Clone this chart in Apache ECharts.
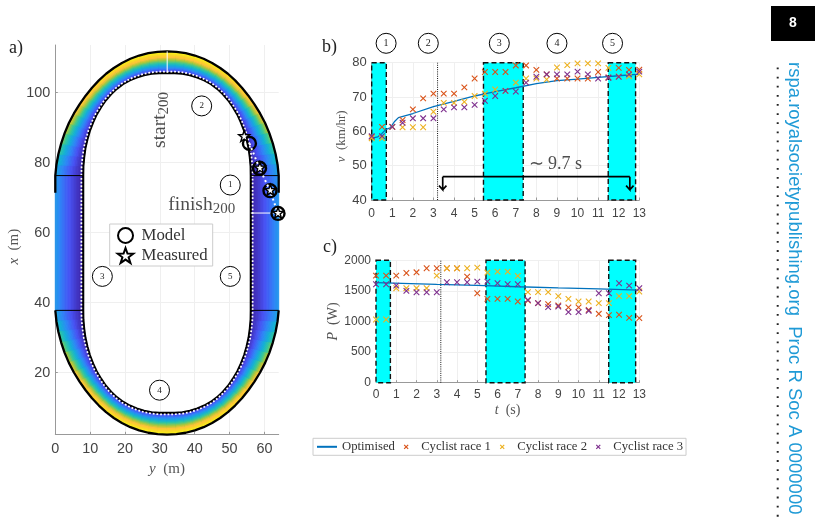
<!DOCTYPE html>
<html><head><meta charset="utf-8">
<style>html,body{margin:0;padding:0;background:#fff}#c{width:821px;height:518px}</style>
<script src="https://cdn.jsdelivr.net/npm/echarts@6/dist/echarts.min.js"></script>
</head><body><div id="c"></div>
<script>
// ---- Panel (b) and (c) readings
const tSamples=[0,0.5,1,1.5,2,2.5,3,3.5,4,4.5,5,5.5,6,6.5,7,7.5,8,8.5,9,9.5,10,10.5,11,11.5,12,12.5,13];
const vRace1=[58.4,61.3,61.3,63.3,66.4,69.6,71,71,71,72.8,75.4,77.3,77.3,77.3,79.2,79.2,77.9,76.6,75.4,75.4,75.4,75.4,77.3,75.7,78.5,77.9,78];
const vRace2=[58,58,61.3,61.2,61.2,61.2,65.7,68.3,68.3,68.6,70.3,71,72.2,71.8,74.2,75.4,75.4,75.1,78.6,79.3,79.8,79.8,79.8,78.5,76,76,76.6];
const vRace3=[58.6,58.6,61.3,62.5,63.8,63.8,63.8,66.4,67,67,67.7,68.9,70.3,71.8,71.6,74.2,75.9,76.6,76.6,76.6,77.4,76.6,75.4,75.6,75.9,76.6,77.4];
const vModelT=[0,0.3,0.5,0.7,0.9,1.1,1.3,2,3,4,5,6,7,8,9,10,11,12,13];
const vModel=[58,58.4,59.4,60.6,61,62.8,64,65.2,67.2,68.7,70.3,71.6,72.7,73.9,74.8,75.2,75.7,76.2,76.7];
const pRace1=[1750,1750,1750,1793,1804,1870,1870,1870,1870,1733,1462,1370,1370,1370,1327,1343,1300,1283,1262,1230,1230,1190,1126,1104,1110,1060,1055];
const pRace2=[1033,1033,1544,1544,1544,1544,1750,1870,1870,1870,1880,1800,1815,1815,1745,1480,1480,1480,1414,1370,1327,1327,1300,1300,1414,1414,1490];
const pRace3=[1609,1609,1587,1500,1478,1478,1478,1641,1641,1641,1652,1652,1625,1609,1609,1354,1300,1234,1245,1153,1153,1175,1462,1462,1625,1587,1544];
const pModelT=[0,3,5,7,9,11,13];
const pModel=[1635,1605,1590,1568,1548,1532,1512];
const bandStart=[0,5.43,11.49];
const bandEnd=[0.71,7.36,12.82];
const markTime=3.2;
const sectorLabels=['1','2','3','4','5'];
const sectorT=[0.7,2.75,6.2,9,11.7];
const sectorV=85.65;
const spanBar=[[3.45,46.8],[12.54,46.8]];
const spanLeft=[[3.45,46.8],[3.45,43],[3.27,44.2],[3.45,43],[3.63,44.2]];
const spanRight=[[12.54,46.8],[12.54,43],[12.36,44.2],[12.54,43],[12.72,44.2]];
// ---- Panel (a) readings: track edges, quarter-arc offsets from the bend ends
const trackCentreY=32.05, bendTopX=76.3, bendBottomX=37.8, outerEdgeEndX=71.4;
const outerDy=[32.05,31.73,31.16,30.36,29.37,28.15,26.71,25.1,23.35,21.51,19.55,17.48,15.27,12.94,10.51,8,5.37,2.69,0];
const outerDx=[0,3.1,6.16,9.19,12.14,15,17.75,20.36,22.82,25.1,27.19,29.08,30.74,32.17,33.36,34.29,34.96,35.36,35.5];
const innerDy=[24.05,24.01,23.78,23.43,22.85,22.15,21.23,20.2,18.92,17.6,16.06,14.4,12.63,10.66,8.68,6.57,4.43,2.2,0];
const innerDx=[0,2.6,5.19,7.78,10.32,12.78,15.15,17.41,19.53,21.47,23.24,24.8,26.12,27.2,28.03,28.7,29.1,29.29,29.3];
const bankColour=[.3,.38,.46,.54,.62,.69,.75,.81,.86,.9,.93,.96,.98,.99,1,1,1,1,1];
const riderY=[55.7,58.6,61.6,63.9];
const riderX=[85.5,78.4,72,65.5];
const measuredY=[54.2,58.7,61.7,63.9];
const measuredX=[87.6,78.6,72.2,65.7];
const trackSectorNames=['1','2','3','4','5'];
const trackSectorY=[50.2,42,13.5,29.9,50.2];
const trackSectorX=[73.6,96.2,47.5,15,47.5];

const SERIF='"Liberation Serif",serif', SANS='"Liberation Sans",sans-serif';
const parula=[[62,38,168],[72,82,244],[46,135,247],[18,177,214],[55,200,151],[171,199,57],[254,195,56],[249,220,36],[249,251,20]];
function pc(f){f=Math.max(0,Math.min(1,f))*(parula.length-1);const i=Math.min(Math.floor(f),parula.length-2),u=f-i;
  const a=parula[i],b=parula[i+1];return 'rgb('+[0,1,2].map(k=>Math.round(a[k]+(b[k]-a[k])*u)).join(',')+')';}

function arc(xBase,sx){const r=[];
  for(let i=0;i<19;i++)r.push([trackCentreY-outerDy[i],xBase+sx*outerDx[i],trackCentreY-innerDy[i],xBase+sx*innerDx[i],bankColour[i]]);
  for(let i=17;i>=0;i--)r.push([trackCentreY+outerDy[i],xBase+sx*outerDx[i],trackCentreY+innerDy[i],xBase+sx*innerDx[i],bankColour[i]]);
  return r;}
const topArc=arc(bendTopX,1), botArc=arc(bendBottomX,-1);
const straightL=[[0,bendBottomX,8,bendBottomX,.3],[0,bendTopX,8,bendTopX,.3]];
const straightR=[[64.1,bendBottomX,56.1,bendBottomX,.3],[64.1,bendTopX,56.1,bendTopX,.3]];
const BANDS=18, cells=[];
const railPt=(p,s)=>[p[2]+(p[0]-p[2])*s,p[3]+(p[1]-p[3])*s];
[topArc,botArc,straightL,straightR].forEach(rail=>{
  for(let i=0;i<rail.length-1;i++){const a=rail[i],b=rail[i+1];
    for(let j=0;j<BANDS;j++){const s0=j/BANDS,s1=(j+1)/BANDS,sm=(s0+s1)/2,bank=(a[4]+b[4])/2;
      const shade=Math.pow(sm,1.3-.3*(bank-.3)/.7)*bank;
      cells.push([...railPt(a,s0),...railPt(a,s1),...railPt(b,s1),...railPt(b,s0),shade]);
    }}});
const outerTop=[[0,outerEdgeEndX],...topArc.map(p=>[p[0],p[1]]),[64.1,outerEdgeEndX]];
const outerBot=botArc.map(p=>[p[0],p[1]]);
const innerPath=[...topArc.map(p=>[p[2],p[3]]),...botArc.slice().reverse().map(p=>[p[2],p[3]])];
innerPath.push(innerPath[0]);
const whitePath=[...topArc.map(p=>railPt(p,.065)),...botArc.slice().reverse().map(p=>railPt(p,.065))];
whitePath.push(whitePath[0]);

const STAR='path://M50 4L62 38L98 39L69 61L80 96L50 75L20 96L31 61L2 39L38 38Z';
const CROSS='path://M0 0L10 10M10 0L0 10';
const axisLine={show:true,lineStyle:{color:'#999',width:1}};
const split={show:true,lineStyle:{color:'#efefef',width:1}};
const tick={show:true,inside:true,length:2.5,lineStyle:{color:'#999'}};
function lab(sz,m){return {color:'#444',fontFamily:SANS,fontSize:sz,margin:m,formatter:v=>String(v)};}
const nameStyle=(sz,pad)=>({color:'#555',fontFamily:SERIF,fontSize:sz,padding:pad||0,rich:{i:{fontFamily:SERIF,fontStyle:'italic',fontSize:sz,color:'#555'}}});
const zip=(a,b)=>a.map((v,i)=>[v,b[i]]);

function bandsSeries(xi){return {type:'line',name:'bands'+xi,xAxisIndex:xi,yAxisIndex:xi,data:[],z:1,silent:true,
  markArea:{silent:true,itemStyle:{color:'#00ffff',borderColor:'#111',borderWidth:1.4,borderType:[5,3]},
   data:bandStart.map((s,i)=>[{xAxis:s,yAxis:xi===1?80:2000},{xAxis:bandEnd[i],yAxis:xi===1?40:0}])}};}
function crossSeries(name,vals,color,xi){return {type:'scatter',name,xAxisIndex:xi,yAxisIndex:xi,data:zip(tSamples,vals),z:6,
  symbol:CROSS,symbolSize:5.6,clip:false,itemStyle:{color:'none',borderColor:color,borderWidth:1.1,opacity:1}};}
function dotted(xi,y0,y1){return {type:'line',xAxisIndex:xi,yAxisIndex:xi,data:[[markTime,y0],[markTime,y1]],symbol:'none',z:3,silent:true,
  lineStyle:{color:'#111',width:1,type:[1,1.2]}};}
function black(data,width,z,extra){return Object.assign({type:'line',xAxisIndex:0,yAxisIndex:0,data,symbol:'none',clip:false,silent:true,z:z||3,
  lineStyle:{color:'#000',width:width||1}},extra||{});}
function span(data){return {type:'line',xAxisIndex:1,yAxisIndex:1,data,symbol:'none',clip:false,z:7,silent:true,lineStyle:{color:'#000',width:1.7,join:'miter'}};}

const option={animation:false,backgroundColor:'#fff',
 grid:[{left:55.3,top:45,width:223.4,height:389.3},{left:371.7,top:62.7,width:267.6,height:137.3},{left:376,top:260.3,width:263.3,height:122.4}],
 xAxis:[
  {gridIndex:0,type:'value',min:0,max:64.1,axisLine,splitLine:split,axisTick:Object.assign({},tick,{customValues:[0,10,20,30,40,50,60]}),
   axisLabel:Object.assign(lab(14.4,8),{customValues:[0,10,20,30,40,50,60]}),name:'{i|y}  (m)',nameLocation:'middle',nameGap:25,nameTextStyle:nameStyle(15)},
  {gridIndex:1,type:'value',min:0,max:13,interval:1,axisLine,splitLine:split,axisTick:tick,axisLabel:lab(12,8)},
  {gridIndex:2,type:'value',min:0,max:13,interval:1,axisLine,splitLine:split,axisTick:tick,axisLabel:lab(12,6),
   name:'{i|t}  (s)',nameLocation:'middle',nameGap:21,nameTextStyle:nameStyle(14)}],
 yAxis:[
  {gridIndex:0,type:'value',min:2.4,max:113.6,axisLine,splitLine:split,axisTick:Object.assign({},tick,{customValues:[20,40,60,80,100]}),
   axisLabel:Object.assign(lab(14.4,5),{customValues:[20,40,60,80,100]}),name:'{i|x}  (m)',nameLocation:'middle',nameGap:34,nameTextStyle:nameStyle(15,[0,14,0,0])},
  {gridIndex:1,type:'value',min:40,max:80,interval:10,axisLine,splitLine:split,axisTick:tick,axisLabel:lab(13,5),
   name:'{i|v}  (km/hr)',nameLocation:'middle',nameGap:19,nameTextStyle:nameStyle(13,[0,10,0,0])},
  {gridIndex:2,type:'value',min:0,max:2000,interval:500,axisLine,splitLine:split,axisTick:tick,axisLabel:lab(12,5),
   name:'{i|P}  (W)',nameLocation:'middle',nameGap:28,nameTextStyle:nameStyle(14)}],
 legend:[
  {data:['Model','Measured'],left:109.7,top:224,orient:'vertical',selectedMode:false,padding:[3,5,2,7],itemGap:3,itemWidth:18,itemHeight:15,
   backgroundColor:'#fff',borderColor:'#ccc',borderWidth:1,borderRadius:0,z:20,
   textStyle:{fontFamily:SERIF,fontSize:16.8,color:'#333',padding:[0,0,0,2]},itemStyle:{borderWidth:2}},
  {data:[{name:'Optimised',itemStyle:{color:'rgba(0,0,0,0)',opacity:0,borderWidth:0}},'Cyclist race 1','Cyclist race 2','Cyclist race 3'],left:313,top:438.3,selectedMode:false,padding:[2,3],itemGap:6.8,itemWidth:20,itemHeight:4,
   borderColor:'#ccc',borderWidth:1,borderRadius:0,backgroundColor:'#fff',
   textStyle:{fontFamily:SERIF,fontSize:12.7,color:'#333'},itemStyle:{borderWidth:1.2}}],
 series:[
  {type:'custom',xAxisIndex:0,yAxisIndex:0,z:2,silent:true,clip:false,data:cells,encode:{x:[0,2,4,6],y:[1,3,5,7]},
   renderItem:(p,api)=>{const pts=[0,2,4,6].map(k=>api.coord([api.value(k),api.value(k+1)]));const c=pc(api.value(8));
     return {type:'polygon',shape:{points:pts},style:{fill:c,stroke:c,lineWidth:1}};}},
  black(outerTop,2.3,3),black(outerBot,2.3,3),
  black(innerPath,2.2,3),
  black(whitePath,1.7,4,{lineStyle:{color:'#fff',width:1.7,type:[1.8,1.9]}}),
  black([[0,bendTopX],[8,bendTopX]],1,4),black([[56.1,bendTopX],[64.1,bendTopX]],1,4),
  black([[0,bendBottomX],[8,bendBottomX]],1,4),black([[56.1,bendBottomX],[64.1,bendBottomX]],1,4),
  black([[32.1,105.6],[32.1,111.8]],1,4,{lineStyle:{color:'#fff',width:1}}),
  black([[56.1,65.6],[64.1,65.6]],1,4,{lineStyle:{color:'#fff',width:1}}),
  {type:'scatter',name:'Model',xAxisIndex:0,yAxisIndex:0,data:zip(riderY,riderX),symbol:'circle',symbolSize:13,clip:false,z:6,
   itemStyle:{color:'rgba(255,255,255,0)',borderColor:'#000',borderWidth:2.4,opacity:1}},
  black(zip(riderY,riderX),2,7,{lineStyle:{color:'#fff',width:2,type:[2,3]}}),
  {type:'scatter',name:'Measured',xAxisIndex:0,yAxisIndex:0,data:zip(measuredY,measuredX),symbol:STAR,symbolSize:11,clip:false,z:8,
   itemStyle:{color:'#fff',borderColor:'#000',borderWidth:1.4,opacity:1}},
  {type:'scatter',xAxisIndex:0,yAxisIndex:0,z:9,symbol:'circle',symbolSize:20,clip:false,silent:true,
   data:zip(trackSectorY,trackSectorX).map((d,i)=>({value:d,label:{formatter:trackSectorNames[i]}})),
   itemStyle:{color:'#fff',borderColor:'#000',borderWidth:1,opacity:1},
   label:{show:true,position:'inside',color:'#222',fontFamily:SERIF,fontSize:9}},
  {type:'scatter',xAxisIndex:0,yAxisIndex:0,z:9,symbolSize:1,clip:false,silent:true,itemStyle:{color:'rgba(0,0,0,0)'},
   data:[{value:[30.1,92.2],label:{rotate:90,formatter:'{t|start}{s|200}'}},{value:[42,68],label:{formatter:'{t|finish}{s|200}'}}],
   label:{show:true,position:'inside',rich:{t:{fontFamily:SERIF,fontSize:19.5,color:'#222'},s:{fontFamily:SERIF,fontSize:15,color:'#222',padding:[8,0,0,0]}}}},

  bandsSeries(1),dotted(1,40,80),
  crossSeries('Cyclist race 1',vRace1,'#d95319',1),crossSeries('Cyclist race 2',vRace2,'#edb120',1),crossSeries('Cyclist race 3',vRace3,'#7e2f8e',1),
  {type:'line',name:'Optimised',xAxisIndex:1,yAxisIndex:1,data:zip(vModelT,vModel),symbol:'none',z:5,color:'#0072bd',lineStyle:{color:'#0072bd',width:1.3}},
  span(spanBar),span(spanLeft),span(spanRight),
  {type:'scatter',xAxisIndex:1,yAxisIndex:1,z:9,symbolSize:1,clip:false,silent:true,itemStyle:{color:'rgba(0,0,0,0)'},
   data:[{value:[8.92,50.4],label:{formatter:'∼ 9.7 s'}}],label:{show:true,position:'inside',fontFamily:SERIF,fontSize:18,color:'#222'}},
  {type:'scatter',xAxisIndex:1,yAxisIndex:1,z:9,symbol:'circle',symbolSize:20,clip:false,silent:true,
   data:sectorT.map((t,i)=>({value:[t,sectorV],label:{formatter:sectorLabels[i]}})),
   itemStyle:{color:'#fff',borderColor:'#000',borderWidth:1,opacity:1},label:{show:true,position:'inside',color:'#222',fontFamily:SERIF,fontSize:10}},

  bandsSeries(2),dotted(2,0,2000),
  crossSeries('Cyclist race 1',pRace1,'#d95319',2),crossSeries('Cyclist race 2',pRace2,'#edb120',2),crossSeries('Cyclist race 3',pRace3,'#7e2f8e',2),
  {type:'line',name:'Optimised',xAxisIndex:2,yAxisIndex:2,data:zip(pModelT,pModel),symbol:'none',z:5,color:'#0072bd',lineStyle:{color:'#0072bd',width:1.3}}
 ],
 graphic:[
  {type:'text',x:9,y:39,style:{text:'a)',font:'18px '+SERIF,fill:'#222'}},
  {type:'text',x:322,y:38,style:{text:'b)',font:'18px '+SERIF,fill:'#222'}},
  {type:'text',x:323,y:238,style:{text:'c)',font:'18px '+SERIF,fill:'#222'}},
  {type:'rect',shape:{x:771,y:6,width:44,height:35},style:{fill:'#000'}},
  {type:'text',x:793,y:23.5,style:{text:'8',font:'bold 14px '+SANS,fill:'#fff',textAlign:'center',textVerticalAlign:'middle'}},
  {type:'text',x:794.5,y:62,rotation:-Math.PI/2,style:{text:'rspa.royalsocietypublishing.org  Proc R Soc A 0000000',font:'18.5px '+SANS,fill:'#1f9ad6',textAlign:'left',textVerticalAlign:'middle'}},
  {type:'line',shape:{x1:777.7,y1:67.5,x2:777.7,y2:518},style:{stroke:'#222',lineWidth:2,lineDash:[1.8,7.33]}}
 ]};
const chart=echarts.init(document.getElementById('c'),null,{renderer:'canvas',width:821,height:518});
chart.setOption(option);
</script></body></html>
